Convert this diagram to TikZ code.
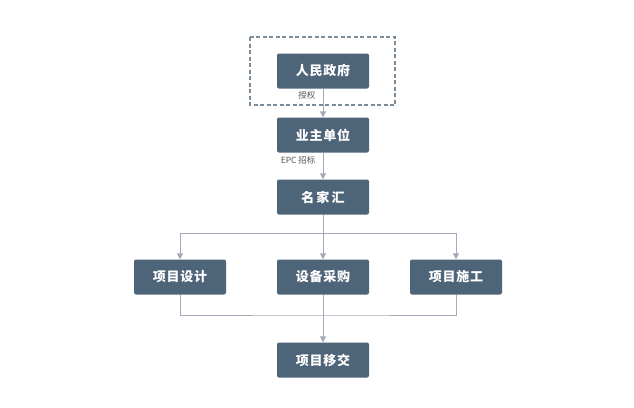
\documentclass[tikz,border=0pt]{standalone}
\usepackage{fontspec}
\usepackage{xcolor}
\usepackage{tikz}
\usetikzlibrary{arrows.meta}
\newfontfamily\cjk{Noto Sans CJK SC}[LetterSpace=6]
\newfontfamily\cjknote{Noto Sans CJK SC}
\definecolor{boxblue}{HTML}{4E6478}
\definecolor{linegray}{HTML}{A3AAB8}
\definecolor{labelgray}{HTML}{555555}

\begin{document}
\begin{tikzpicture}[
    x=1pt, y=-1pt,
    stage/.style={fill=boxblue, rounded corners=2pt, minimum width=92pt, minimum height=35pt, text=white, font=\cjk\bfseries\fontsize{13}{15}\selectfont},
    flow/.style={draw=linegray, line width=1pt, -{Triangle[length=6pt,width=6pt]}},
    link/.style={draw=linegray, line width=1pt},
    note/.style={font=\cjknote\fontsize{8.5}{10}\selectfont, text=labelgray}
]
\useasboundingbox (0,0) rectangle (634,407);
\draw[boxblue!75, line width=1.1pt, dash pattern=on 4pt off 2.5pt] (250,37) rectangle (395,105);
\node[stage] (gov) at (323, 71) {人民政府};
\node[stage] (owner) at (323, 135) {业主单位};
\node[stage] (epc) at (323, 197) {名\,家\,汇};
\node[stage] (design) at (180, 277) {项目设计};
\node[stage] (purchase) at (323, 277) {设备采购};
\node[stage] (build) at (456, 277) {项目施工};
\node[stage] (handover) at (323, 360) {项目移交};
\node[note, anchor=east] at (319, 95) {授权};
\node[note, anchor=east] at (319, 160) {EPC 招标};
% top chain
\draw[flow] (gov) -- (owner);
\draw[flow] (owner) -- (epc);
% branch
\coordinate (split) at (323, 233);
\draw[flow] (epc) -- (purchase);
\draw[flow] (split) -| (design);
\draw[flow] (split) -| (build);
% merge
\coordinate (merge) at (323, 315);
\draw[link] (design) |- (merge) -| (build);
\draw[flow] (purchase) -- (handover);
\end{tikzpicture}
\end{document}
